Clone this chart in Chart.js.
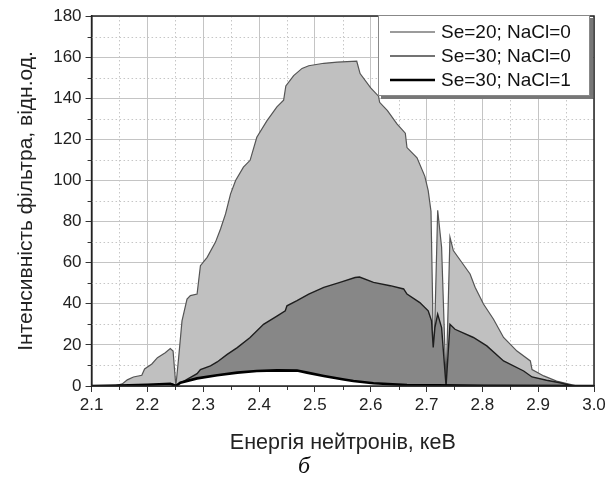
<!DOCTYPE html>
<html>
<head>
<meta charset="utf-8">
<script src="https://cdn.jsdelivr.net/npm/chart.js@4/dist/chart.umd.min.js"></script>
<style>
  html, body { margin: 0; padding: 0; background: #fff; }
  canvas { display: block; }
</style>
</head>
<body>
<canvas id="chart" width="613" height="483"></canvas>
<script>
// Filter transmission spectra: neutron energy (keV) vs. intensity (rel. units)
const seriesLabels = ['Se=20; NaCl=0', 'Se=30; NaCl=0', 'Se=30; NaCl=1'];

// Se=20; NaCl=0
const energy1 = [2.10, 2.14, 2.155, 2.164, 2.175, 2.19, 2.195, 2.208, 2.218, 2.232, 2.241, 2.246, 2.251,
  2.256, 2.262, 2.271, 2.277, 2.289, 2.295, 2.307, 2.322, 2.331, 2.34, 2.349, 2.358, 2.372, 2.384,
  2.396, 2.414, 2.432, 2.444, 2.448, 2.462, 2.477, 2.489, 2.516, 2.54, 2.575, 2.581, 2.6, 2.614,
  2.616, 2.63, 2.647, 2.662, 2.665, 2.683, 2.697, 2.703, 2.708, 2.711, 2.712, 2.715, 2.72, 2.727,
  2.735, 2.742, 2.748, 2.763, 2.778, 2.787, 2.802, 2.82, 2.838, 2.862, 2.886, 2.889, 2.91, 2.933,
  2.957, 2.97, 3.0];
const intensity1 = [0, 0, 1, 3, 4.4, 5.2, 8.3, 10.7, 13.8, 16.2, 18.2, 17, 0,
  13.8, 31.7, 42.3, 44, 44.7, 58.5, 62.6, 70, 76.4, 83.7, 93.5, 100, 106.5, 109.8,
  121, 129, 135.8, 139, 146, 151, 154.5, 155.8, 157, 157.6, 158, 152, 145, 141,
  138, 134, 127.5, 123, 116, 111, 102, 95, 85, 40, 8, 31.7, 85.5, 67.5,
  0.5, 72.4, 65.9, 60.2, 54.5, 48, 39.9, 32.5, 23.6, 17, 12.2, 8, 4.9, 2.4,
  0.8, 0, 0];

// Se=30; NaCl=0
const energy2 = [2.10, 2.20, 2.245, 2.251, 2.256, 2.271, 2.289, 2.295, 2.313, 2.325, 2.343, 2.361,
  2.384, 2.408, 2.432, 2.447, 2.45, 2.468, 2.489, 2.516, 2.545, 2.572, 2.58, 2.605, 2.635, 2.659,
  2.665, 2.688, 2.703, 2.709, 2.712, 2.715, 2.72, 2.727, 2.735, 2.742, 2.751, 2.784, 2.808, 2.838,
  2.874, 2.889, 2.915, 2.939, 2.962, 3.0];
const intensity2 = [0, 0.3, 1, 0, 0.8, 3.2, 6, 8, 9.8, 11.7, 15.4, 18.7,
  23.6, 30, 34, 36.6, 39, 41.5, 44.7, 48, 50.4, 52.8, 53, 50.4, 48.8, 47.2,
  44.7, 40.6, 36.6, 31.7, 18.7, 28.4, 35, 28.4, 0, 30, 27.6, 23.6, 19.5, 12.2,
  7.3, 4.4, 2.8, 1.6, 0, 0];

// Se=30; NaCl=1
const energy3 = [2.10, 2.15, 2.2, 2.241, 2.251, 2.259, 2.289, 2.325, 2.361, 2.396, 2.432, 2.468,
  2.486, 2.516, 2.552, 2.569, 2.605, 2.665, 2.72, 2.8, 2.98, 3.0];
const intensity3 = [0, 0.2, 0.6, 1.1, 0, 1.6, 3.7, 5.2, 6.5, 7.3, 7.6, 7.5,
  6.5, 4.9, 3.2, 2.4, 1.3, 0.5, 0.3, 0.1, 0, 0];

const xTitle = 'Енергія нейтронів, кеВ';
const yTitle = 'Інтенсивність фільтра, відн.од.';
const caption = 'б';

const toPoints = (xs, ys) => xs.map((x, i) => ({ x, y: ys[i] }));

const FONT = '"Liberation Sans", Arial, sans-serif';

// minor dotted grid, minor ticks, plot frame and boxed legend
const decorations = {
  id: 'decorations',
  _minor(scale) {
    const t = scale.ticks.map(k => k.value);
    const out = [];
    for (let i = 0; i < t.length - 1; i++) out.push((t[i] + t[i + 1]) / 2);
    return out;
  },
  beforeDatasetsDraw(chart) {
    const { ctx, chartArea: a, scales: { x, y } } = chart;
    ctx.save();
    ctx.strokeStyle = '#c6c6c6';
    ctx.lineWidth = 1;
    ctx.setLineDash([1.5, 2.5]);
    this._minor(x).forEach(v => {
      const px = Math.round(x.getPixelForValue(v)) + 0.5;
      ctx.beginPath(); ctx.moveTo(px, a.top); ctx.lineTo(px, a.bottom); ctx.stroke();
    });
    this._minor(y).forEach(v => {
      const py = Math.round(y.getPixelForValue(v)) + 0.5;
      ctx.beginPath(); ctx.moveTo(a.left, py); ctx.lineTo(a.right, py); ctx.stroke();
    });
    ctx.restore();
  },
  afterDatasetsDraw(chart) {
    const { ctx, chartArea: a, scales: { x, y } } = chart;
    ctx.save();
    ctx.strokeStyle = '#333';
    ctx.lineWidth = 1;
    this._minor(x).forEach(v => {
      const px = Math.round(x.getPixelForValue(v)) + 0.5;
      ctx.beginPath(); ctx.moveTo(px, a.bottom); ctx.lineTo(px, a.bottom + 4); ctx.stroke();
    });
    this._minor(y).forEach(v => {
      const py = Math.round(y.getPixelForValue(v)) + 0.5;
      ctx.beginPath(); ctx.moveTo(a.left, py); ctx.lineTo(a.left - 4, py); ctx.stroke();
    });
    // frame
    ctx.strokeStyle = '#222';
    ctx.lineWidth = 1.5;
    ctx.strokeRect(a.left, a.top, a.right - a.left, a.bottom - a.top);
    ctx.restore();
  },
  afterDraw(chart) {
    const { ctx, chartArea: a } = chart;
    const sets = chart.data.datasets;
    const w = 212, rowH = 24, h = 81;
    const bx = a.right - w - 4, by = a.top - 1;
    ctx.save();
    // shadow
    ctx.fillStyle = '#777';
    ctx.fillRect(bx + 3, by + 3, w, h);
    ctx.fillStyle = '#fff';
    ctx.fillRect(bx, by, w, h);
    ctx.strokeStyle = '#888';
    ctx.lineWidth = 1;
    ctx.strokeRect(bx + 0.5, by + 0.5, w - 1, h - 1);
    ctx.font = '19px ' + FONT;
    ctx.textBaseline = 'middle';
    ctx.fillStyle = '#111';
    sets.forEach((ds, i) => {
      const cy = by + 17 + i * rowH;
      ctx.strokeStyle = ds.legendColor;
      ctx.lineWidth = ds.legendWidth;
      ctx.beginPath(); ctx.moveTo(bx + 12, cy); ctx.lineTo(bx + 57, cy); ctx.stroke();
      ctx.fillText(ds.label, bx + 63, cy + 1);
    });
    ctx.restore();
  }
};

new Chart(document.getElementById('chart'), {
  type: 'line',
  data: {
    datasets: [
      {
        label: seriesLabels[0],
        data: toPoints(energy1, intensity1),
        borderColor: '#555',
        borderWidth: 1.2,
        backgroundColor: '#c0c0c0',
        fill: 'origin',
        order: 3,
        legendColor: '#7a7a7a', legendWidth: 1.5
      },
      {
        label: seriesLabels[1],
        data: toPoints(energy2, intensity2),
        borderColor: '#1e1e1e',
        borderWidth: 1.4,
        backgroundColor: '#878787',
        fill: 'origin',
        order: 2,
        legendColor: '#444', legendWidth: 1.7
      },
      {
        label: seriesLabels[2],
        data: toPoints(energy3, intensity3),
        borderColor: '#000',
        borderWidth: 2.6,
        backgroundColor: '#ffffff',
        fill: 'origin',
        order: 1,
        legendColor: '#000', legendWidth: 2.6
      }
    ]
  },
  options: {
    responsive: false,
    animation: false,
    events: [],
    elements: { point: { radius: 0 }, line: { tension: 0 } },
    layout: { padding: { left: 14, right: 19, top: 16, bottom: 0 } },
    plugins: {
      legend: { display: false },
      tooltip: { enabled: false },
      title: {
        display: true,
        position: 'bottom',
        text: caption,
        color: '#111',
        font: { family: '"Liberation Serif", "Times New Roman", serif', size: 24, style: 'italic', weight: 'normal' },
        padding: { top: 0, bottom: 2 }
      }
    },
    scales: {
      x: {
        type: 'linear',
        min: 2.1, max: 3.0,
        ticks: {
          stepSize: 0.1,
          color: '#222',
          font: { family: FONT, size: 17 },
          padding: 3,
          maxRotation: 0,
          callback: v => v.toFixed(1)
        },
        grid: { color: '#c4c4c4', lineWidth: 1, tickLength: 6, tickColor: '#333' },
        border: { color: '#222', width: 1.5 },
        title: {
          display: true, text: xTitle, color: '#222',
          font: { family: FONT, size: 21.5 },
          padding: { top: 12, bottom: -4 }
        }
      },
      y: {
        min: 0, max: 180,
        ticks: {
          stepSize: 20,
          color: '#222',
          font: { family: FONT, size: 17 },
          padding: 4
        },
        grid: { color: '#c4c4c4', lineWidth: 1, tickLength: 6, tickColor: '#333' },
        border: { color: '#222', width: 1.5 },
        title: {
          display: true, text: yTitle, color: '#222',
          font: { family: FONT, size: 21 },
          padding: { top: 0, bottom: 10 }
        }
      }
    }
  },
  plugins: [decorations]
});
</script>
</body>
</html>
